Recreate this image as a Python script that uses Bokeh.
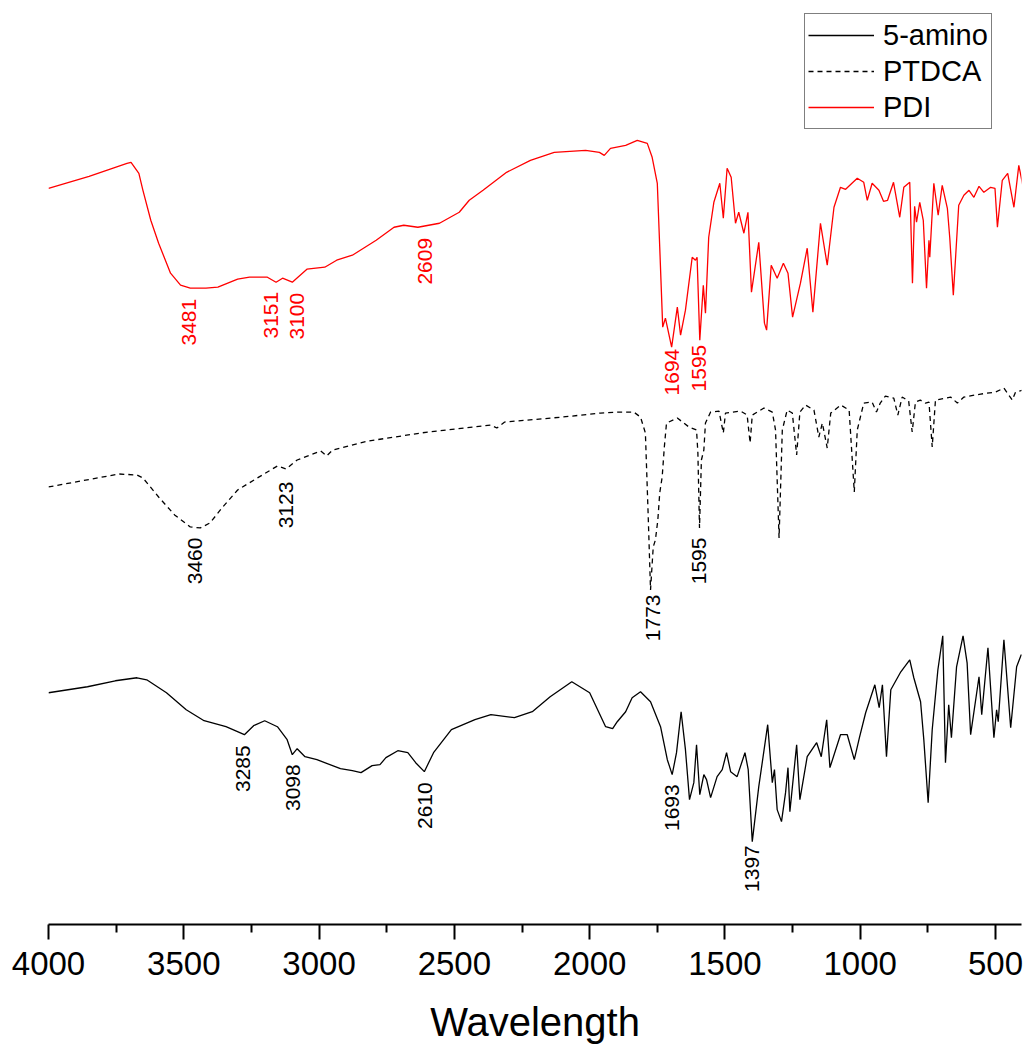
from bokeh.plotting import figure
from bokeh.models import Range1d, FixedTicker, Legend, LegendItem
from bokeh.core.properties import value
from bokeh.embed import file_html
from bokeh.resources import INLINE
import numpy as np

# ---- data (wavenumber cm-1, transmittance in arbitrary offset units) ----
pdi_w = [4000, 3850, 3710, 3695, 3666, 3651, 3622, 3593, 3549, 3512, 3476, 3418, 3374, 3301, 3257,
         3191, 3159, 3135, 3099, 3045, 2979, 2935, 2877, 2789, 2723, 2687, 2635, 2555, 2482, 2445,
         2394, 2307, 2219, 2131, 2015, 1964, 1946, 1923, 1867, 1824, 1787, 1769, 1750, 1741, 1730,
         1720, 1697, 1676, 1664, 1646, 1621, 1609, 1603, 1593, 1580, 1572, 1560, 1541, 1519, 1506,
         1492, 1477, 1461, 1449, 1430, 1415, 1402, 1375, 1354, 1346, 1329, 1307, 1284, 1267, 1250,
         1221, 1196, 1175, 1147, 1122, 1097, 1073, 1054, 1011, 987, 974, 956, 931, 914, 899,
         877, 854, 839, 817, 807, 799, 792, 780, 767, 755, 746, 743, 728, 712, 697,
         678, 669, 656, 636, 617, 598, 580, 561, 543, 518, 502, 493, 475, 455, 432,
         414, 397]
pdi_t = [737, 749, 762, 763, 752, 735, 705, 682, 652, 640, 637, 637, 638, 646, 648,
         648, 643, 647, 643, 656, 658, 665, 670, 685, 698, 700, 698, 702, 713, 725,
         735, 753, 765, 773, 775, 773, 770, 777, 780, 785, 782, 768, 742, 678, 598,
         607, 578, 618, 590, 615, 668, 665, 668, 585, 640, 612, 688, 723, 742, 707,
         757, 748, 702, 713, 692, 713, 633, 683, 602, 595, 660, 647, 662, 652, 608,
         642, 677, 613, 702, 660, 718, 738, 736, 747, 743, 725, 742, 735, 724, 725,
         743, 708, 738, 743, 642, 719, 703, 723, 705, 637, 685, 668, 742, 710, 740,
         717, 687, 630, 720, 730, 735, 728, 739, 733, 738, 737, 698, 745, 752, 718,
         760, 737]

ptdca_w = [4000, 3739, 3673, 3651, 3593, 3534, 3476, 3439, 3403, 3359, 3301, 3228, 3154, 3122, 3081,
           2994, 2972, 2950, 2818, 2599, 2365, 2343, 2314, 2100, 1960, 1886, 1837, 1812, 1794, 1784,
           1775, 1765, 1757, 1748, 1741, 1732, 1724, 1716, 1676, 1633, 1605, 1600, 1594, 1587, 1578,
           1572, 1553, 1522, 1506, 1498, 1442, 1418, 1407, 1399, 1356, 1325, 1313, 1300, 1288, 1270,
           1251, 1235, 1223, 1202, 1171, 1153, 1140, 1122, 1109, 1072, 1041, 1022, 1011, 987, 956,
           940, 926, 907, 876, 861, 845, 821, 808, 796, 778, 759, 746, 734, 722, 666,
           641, 617, 555, 500, 469, 438, 426, 397]
ptdca_t = [438, 451, 450, 447, 428, 410, 398, 397, 402, 417, 435, 447, 459, 456, 465,
           474, 469, 475, 484, 493, 500, 497, 503, 508, 512, 513, 513, 508, 492, 412,
           335, 378, 385, 405, 432, 448, 478, 502, 507, 498, 495, 472, 397, 465, 475,
           502, 513, 514, 492, 512, 514, 510, 482, 510, 517, 513, 495, 387, 495, 515,
           512, 470, 513, 520, 515, 488, 502, 477, 512, 520, 515, 433, 495, 522, 523,
           513, 522, 529, 527, 510, 528, 524, 493, 523, 525, 522, 523, 478, 525, 528,
           522, 528, 531, 533, 537, 525, 533, 535]

amino_w = [4000, 3856, 3753, 3673, 3637, 3564, 3491, 3425, 3344, 3276, 3242, 3201, 3154, 3118, 3099,
           3081, 3052, 3008, 2921, 2877, 2845, 2804, 2775, 2753, 2709, 2672, 2643, 2611, 2577, 2511,
           2424, 2365, 2278, 2212, 2146, 2066, 2000, 1941, 1915, 1898, 1867, 1843, 1812, 1775, 1738,
           1713, 1695, 1679, 1662, 1646, 1631, 1615, 1605, 1593, 1578, 1568, 1553, 1529, 1510, 1494,
           1479, 1455, 1426, 1414, 1399, 1375, 1342, 1325, 1317, 1307, 1291, 1276, 1267, 1260, 1235,
           1223, 1196, 1161, 1144, 1124, 1112, 1073, 1048, 1022, 1003, 980, 946, 930, 918, 903,
           887, 850, 817, 802, 777, 765, 749, 734, 713, 695, 685, 673, 663, 644, 620,
           605, 592, 561, 551, 528, 506, 496, 490, 469, 444, 422, 405, 395]
amino_t = [232, 238, 244, 247, 245, 232, 215, 204, 198, 190, 199, 204, 198, 185, 170,
           176, 168, 165, 156, 154, 152, 159, 160, 167, 174, 172, 162, 153, 172, 195,
           205, 210, 207, 213, 228, 243, 232, 198, 196, 203, 213, 227, 233, 223, 198,
           165, 150, 172, 213, 175, 125, 142, 180, 130, 150, 145, 127, 148, 155, 172,
           153, 148, 172, 155, 83, 138, 200, 142, 155, 115, 103, 132, 157, 113, 180,
           125, 168, 182, 168, 205, 157, 190, 190, 165, 187, 212, 240, 217, 240, 168,
           235, 253, 265, 247, 223, 185, 122, 195, 255, 289, 162, 220, 187, 258, 289,
           262, 190, 248, 210, 277, 187, 215, 203, 285, 197, 258, 270, 267]

# peak annotations: text, x (cm-1), y (same units)
pdi_lab = ["3481", "3151", "3100", "2609", "1694", "1595"]
pdi_lab_x = [3481, 3176, 3080, 2609, 1694, 1595]
pdi_lab_y = [603, 610, 609, 664, 553, 557]
ptdca_lab = ["3460", "3123", "1773", "1595"]
ptdca_lab_x = [3460, 3123, 1766, 1595]
ptdca_lab_y = [364, 420, 307, 364]
amino_lab = ["3285", "3098", "2610", "1693", "1397"]
amino_lab_x = [3283, 3096, 2610, 1695, 1399]
amino_lab_y = [156, 137, 119, 117, 56]

major_ticks = [4000, 3500, 3000, 2500, 2000, 1500, 1000, 500]
minor_ticks = [3750, 3250, 2750, 2250, 1750, 1250, 750]

FONT = "Liberation Sans"

p = figure(width=1027, height=1046, output_backend="svg", toolbar_location=None,
           x_range=Range1d(4000, 404), y_range=Range1d(0, 925),
           y_axis_location=None, min_border_left=48, min_border_right=6,
           min_border_top=0, min_border_bottom=121)
p.outline_line_color = None
p.grid.visible = False

r_amino = p.line(amino_w, amino_t, line_color="black", line_width=1.3)
r_ptdca = p.line(ptdca_w, ptdca_t, line_color="black", line_width=1.3, line_dash="5 4")
r_pdi = p.line(pdi_w, pdi_t, line_color="red", line_width=1.3)

for labs, xs, ys, col in [(pdi_lab, pdi_lab_x, pdi_lab_y, "red"),
                          (ptdca_lab, ptdca_lab_x, ptdca_lab_y, "black"),
                          (amino_lab, amino_lab_x, amino_lab_y, "black")]:
    p.text(x=xs, y=ys, text=labs, angle=np.pi / 2, text_align="center",
           text_baseline="middle", text_color=col, text_font=value(FONT),
           text_font_size="21px")

ax = p.xaxis[0]
ax.ticker = FixedTicker(ticks=major_ticks, minor_ticks=minor_ticks)
ax.axis_label = "Wavelength"
ax.axis_label_text_font = FONT
ax.axis_label_text_font_size = "40px"
ax.axis_label_text_font_style = "normal"
ax.axis_label_text_color = "black"
ax.axis_label_standoff = 22
ax.major_label_text_font = FONT
ax.major_label_text_font_size = "33px"
ax.major_label_text_color = "black"
ax.major_label_standoff = 12
ax.axis_line_width = 2
ax.axis_line_color = "black"
ax.major_tick_line_width = 2
ax.major_tick_line_color = "black"
ax.major_tick_out = 15
ax.major_tick_in = 0
ax.minor_tick_line_width = 2
ax.minor_tick_line_color = "black"
ax.minor_tick_out = 8
ax.minor_tick_in = 0

legend = Legend(items=[LegendItem(label="5-amino", renderers=[r_amino]),
                       LegendItem(label="PTDCA", renderers=[r_ptdca]),
                       LegendItem(label="PDI", renderers=[r_pdi])],
                location=(756, 795))
legend.label_text_font = FONT
legend.label_text_font_size = "29px"
legend.label_text_color = "black"
legend.glyph_width = 66
legend.glyph_height = 36
legend.label_height = 36
legend.label_standoff = 9
legend.spacing = 0
legend.padding = 3
legend.margin = 0
legend.border_line_color = "black"
legend.border_line_width = 1
legend.background_fill_color = "white"
legend.background_fill_alpha = 1
p.add_layout(legend, "center")

open("out.html", "w").write(file_html(p, INLINE))
